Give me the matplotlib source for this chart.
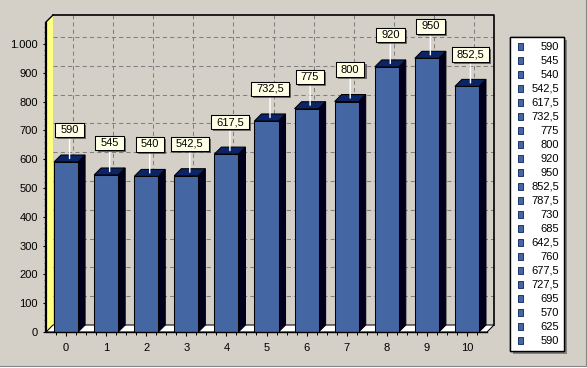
import matplotlib
matplotlib.use("Agg")
import matplotlib.pyplot as plt
import matplotlib.patches as mpatches
import matplotlib.transforms as mtransforms
import matplotlib.patheffects as pe
from matplotlib.path import Path

# ---------------- data ----------------
categories = list(range(11))
series_values = [590, 545, 540, 542.5, 617.5, 732.5, 775, 800, 920, 950, 852.5,
                 787.5, 730, 685, 642.5, 760, 677.5, 727.5, 695, 570, 625, 590]
bar_values = series_values[:len(categories)]
y_ticks = [0, 100, 200, 300, 400, 500, 600, 700, 800, 900, 1000]
y_max = 1076

# ---------------- style ----------------
BG = "#d4d0c8"
FRONT = "#4466a3"
TOP = "#0b2468"
SIDE = "#00001e"
WALL = "#ffff80"
LABEL_BG = "#ffffe6"
FONT = "Liberation Sans"
FS = 8

W, H = 587, 368
fig = plt.figure(figsize=(W / 100, H / 100), dpi=100)
fig.patch.set_facecolor(BG)
plt.rcParams["font.family"] = [FONT, "DejaVu Sans"]

# axes in pixel geometry (front plane)
ax_l, ax_r, ax_top, ax_bot = 46, 487, 22, 332
ax = fig.add_axes([ax_l / W, (H - ax_bot) / H, (ax_r - ax_l) / W, (ax_bot - ax_top) / H])
ax.set_xlim(-0.5, len(categories) - 0.5)
ax.set_ylim(0, y_max)
ax.patch.set_visible(False)
for s in ax.spines.values():
    s.set_visible(False)

xr = ax.get_xlim()
px_per_x = (ax_r - ax_l) / (xr[1] - xr[0])
px_per_y = (ax_bot - ax_top) / y_max
DEPTH = 7
DX = DEPTH / px_per_x
DY = DEPTH / px_per_y
x0, x1 = xr

# back wall border
ax.plot([x0 + DX, x1 + DX, x1 + DX], [y_max + DY, y_max + DY, DY],
        color="black", lw=1.2, clip_on=False, zorder=2)
ax.plot([x0, x0 + DX], [y_max, y_max + DY], color="black", lw=1.0, clip_on=False, zorder=3)

# back-wall grid
grid_kw = dict(color="#808080", lw=0.75, ls=(0, (4, 3)), clip_on=False, zorder=1)
for t in y_ticks[1:]:
    ax.plot([x0 + DX, x1 + DX], [t + DY, t + DY], **grid_kw)
for c in categories:
    ax.plot([c + DX, c + DX], [DY, y_max + DY], **grid_kw)

# left wall
ax.add_patch(mpatches.Polygon([(x0, 0), (x0 + DX, DY), (x0 + DX, y_max + DY), (x0, y_max)],
                              closed=True, fc=WALL, ec="none", clip_on=False, zorder=2))
# floor
ax.add_patch(mpatches.Polygon([(x0, 0), (x1, 0), (x1 + DX, DY), (x0 + DX, DY)],
                              closed=True, fc="white", ec="black", lw=0.75, clip_on=False, zorder=3))

# bars
bw = 0.6
bars = ax.bar(categories, bar_values, width=bw, color=FRONT, edgecolor="black",
              linewidth=0.75, zorder=6, clip_on=False)
for c, v in zip(categories, bar_values):
    a, b = c - bw / 2, c + bw / 2
    ax.add_patch(mpatches.Polygon([(b, 0), (b + DX, DY), (b + DX, v + DY), (b, v)], closed=True,
                                  fc=SIDE, ec="black", lw=0.75, clip_on=False, zorder=5))
    ax.add_patch(mpatches.Polygon([(a, v), (b, v), (b + DX, v + DY), (a + DX, v + DY)], closed=True,
                                  fc=TOP, ec="black", lw=0.75, clip_on=False, zorder=5))


def fmt(v):
    s = f"{v:g}".replace(".", ",")
    return s


def box_style(x0_, y0_, width, height, mutation_size):
    px = 0.45 * mutation_size
    py = 0.2 * mutation_size
    xa, ya = x0_ - px, y0_ - py
    xb, yb = x0_ + width + px, y0_ + height + py
    return Path([(xa, ya), (xb, ya), (xb, yb), (xa, yb), (xa, ya)], closed=True)


for c, v in zip(categories, bar_values):
    ann = ax.annotate(fmt(v), xy=(c + DX / 2, v + DY / 2), xytext=(0, 20.5),
                      textcoords="offset points", ha="center", va="center",
                      fontsize=FS, family=FONT, color="black", zorder=10,
                      bbox=dict(boxstyle=box_style, fc=LABEL_BG, ec="black", lw=0.75),
                      arrowprops=dict(arrowstyle="-", color="white", lw=1.0,
                                      shrinkA=0, shrinkB=0))
    ann.get_bbox_patch().set_path_effects(
        [pe.withSimplePatchShadow(offset=(1.5, -1.5), shadow_rgbFace="#404040", alpha=0.7), pe.Normal()])

# axis lines
ax.plot([x0, x0], [0, y_max], color="black", lw=1.6, clip_on=False, zorder=8, solid_capstyle="butt")
ax.plot([x0, x1], [0, 0], color="black", lw=1.0, clip_on=False, zorder=8)

# ticks
ax.set_yticks(y_ticks)
ax.set_yticklabels([f"{t:,}".replace(",", ".") for t in y_ticks], fontsize=FS, family=FONT)
ax.set_yticks([t for t in range(0, 1061, 20) if t % 100], minor=True)
ax.set_xticks(categories)
ax.set_xticklabels([str(c) for c in categories], fontsize=FS, family=FONT)
ax.set_xticks([c + d for c in [-1] + categories for d in (0.25, 0.5, 0.75)
               if x0 < c + d < x1], minor=True)
ax.tick_params(axis="y", which="major", direction="out", length=2.4, width=0.8, pad=3.5, color="black")
ax.tick_params(axis="y", which="minor", direction="out", length=1.2, width=0.7, color="#606060")
ax.tick_params(axis="x", which="major", direction="out", length=3, width=0.8, pad=5, color="black")
ax.tick_params(axis="x", which="minor", direction="out", length=2, width=0.7, color="black")

# ---------------- legend (figure pixel coords) ----------------
pix = mtransforms.Affine2D().scale(1, -1).translate(0, H) + \
      mtransforms.Affine2D().scale(1 / W, 1 / H) + fig.transFigure
leg = mpatches.Rectangle((510, 37), 54, 314, transform=pix, fc="white", ec="black", lw=1.0, zorder=1)
leg.set_path_effects([pe.withSimplePatchShadow(offset=(2.5, -2.5), shadow_rgbFace="#505050", alpha=0.6),
                      pe.Normal()])
fig.add_artist(leg)
row0, dy_row = 46.5, 14.0
for k, v in enumerate(series_values):
    yy = row0 + k * dy_row
    fig.add_artist(mpatches.Rectangle((518, yy - 3.5), 5, 7, transform=pix, fc=FRONT,
                                      ec="#0b2060", lw=0.6, zorder=2))
    fig.text(559, yy, fmt(v), transform=pix, ha="right", va="center", fontsize=FS,
             family=FONT, zorder=3)

# panel bevel
fig.add_artist(plt.Line2D([0, W], [365.5, 365.5], transform=pix, color="#808080", lw=0.8))
fig.add_artist(plt.Line2D([585.5, 585.5], [0, H], transform=pix, color="#808080", lw=0.8))
fig.add_artist(plt.Line2D([0, W], [367, 367], transform=pix, color="white", lw=0.8))
fig.add_artist(plt.Line2D([586.8, 586.8], [0, H], transform=pix, color="white", lw=0.8))

fig.savefig("out.png", dpi=100, facecolor=BG)
